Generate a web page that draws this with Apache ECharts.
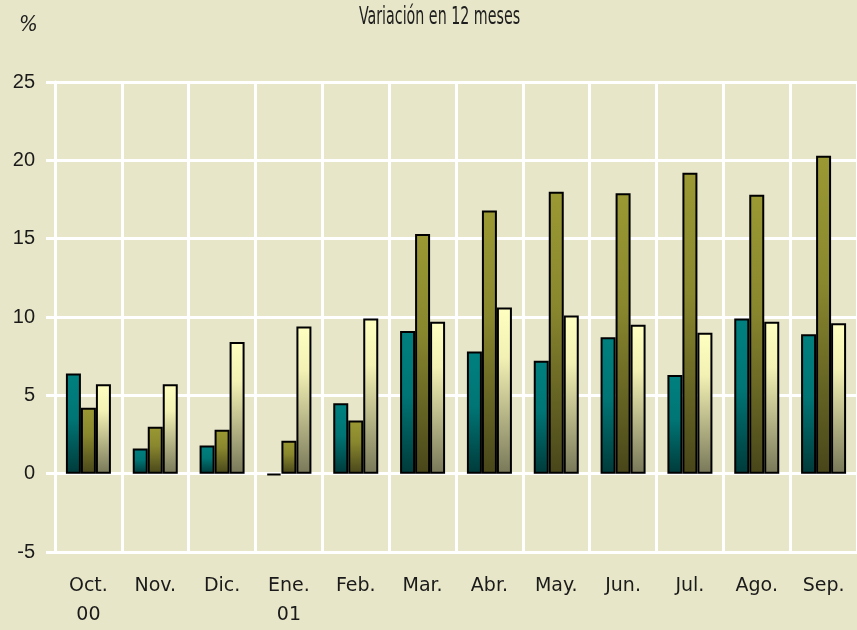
<!DOCTYPE html>
<html>
<head>
<meta charset="utf-8">
<script src="https://cdn.jsdelivr.net/npm/echarts@6/dist/echarts.min.js"></script>
<style>
  html, body { margin: 0; padding: 0; background: #e8e6c8; }
  #chart { width: 857px; height: 630px; }
</style>
</head>
<body>
<div id="chart"></div>
<script>
// months, Oct 2000 - Sep 2001
const categories = ['Oct.\n00', 'Nov.', 'Dic.', 'Ene.\n01', 'Feb.', 'Mar.', 'Abr.', 'May.', 'Jun.', 'Jul.', 'Ago.', 'Sep.']
const serieTeal = [6.4, 1.6, 1.8, -0.1, 4.5, 9.1, 7.8, 7.2, 8.7, 6.3, 9.9, 8.9]
const serieOlive = [4.2, 3.0, 2.8, 2.1, 3.4, 15.3, 16.8, 18.0, 17.9, 19.2, 17.8, 20.3]
const serieCream = [5.7, 5.7, 8.4, 9.4, 9.9, 9.7, 10.6, 10.1, 9.5, 9.0, 9.7, 9.6]

const grad = (stops) => new echarts.graphic.LinearGradient(0, 0, 0, 1,
  stops.map(([offset, color]) => ({ offset, color })))

const barStyle = (stops) => ({
  color: grad(stops),
  borderColor: '#000',
  borderWidth: 2
})

const chart = echarts.init(document.getElementById('chart'))

chart.setOption({
  backgroundColor: '#e8e6c8',
  animation: false,
  graphic: [
    {
      type: 'text', left: 359, top: 6, scaleX: 0.66,
      style: { text: 'Variación en 12 meses', font: '24px "DejaVu Sans Condensed"', fill: '#1e1e1e' }
    },
    {
      type: 'text', left: 19, top: 14,
      style: { text: '%', font: 'italic 22px "DejaVu Sans Condensed"', fill: '#1e1e1e' }
    }
  ],
  grid: { left: 55, top: 82, width: 806, bottom: 78 },
  xAxis: {
    type: 'category',
    data: categories,
    axisLine: { show: false, onZero: false },
    axisTick: { show: false },
    splitLine: { show: true, interval: 0, lineStyle: { color: '#fff', width: 3 } },
    axisLabel: {
      interval: 0, margin: 20, color: '#1a1a1a',
      fontFamily: 'DejaVu Sans', fontSize: 19, lineHeight: 29
    }
  },
  yAxis: {
    type: 'value',
    min: -5, max: 25, interval: 5,
    axisLine: { show: true, lineStyle: { color: '#fff', width: 3 } },
    axisTick: { show: true, length: 9, lineStyle: { color: '#fff', width: 3 } },
    splitLine: { lineStyle: { color: '#fff', width: 3 } },
    axisLabel: { margin: 20, color: '#1a1a1a', fontFamily: 'Liberation Sans', fontSize: 20 }
  },
  series: [
    {
      type: 'bar', data: serieTeal, barWidth: 15, barGap: '0%',
      itemStyle: barStyle([[0, '#008080'], [0.45, '#007575'], [1, '#003a3a']])
    },
    {
      type: 'bar', data: serieOlive, barWidth: 15, barGap: '0%',
      itemStyle: barStyle([[0, '#9a9933'], [0.4, '#8a882e'], [1, '#48461a']])
    },
    {
      type: 'bar', data: serieCream, barWidth: 15, barGap: '0%',
      itemStyle: barStyle([[0, '#ffffc2'], [0.3, '#f3f1b4'], [1, '#787859']])
    }
  ]
})
</script>
</body>
</html>
